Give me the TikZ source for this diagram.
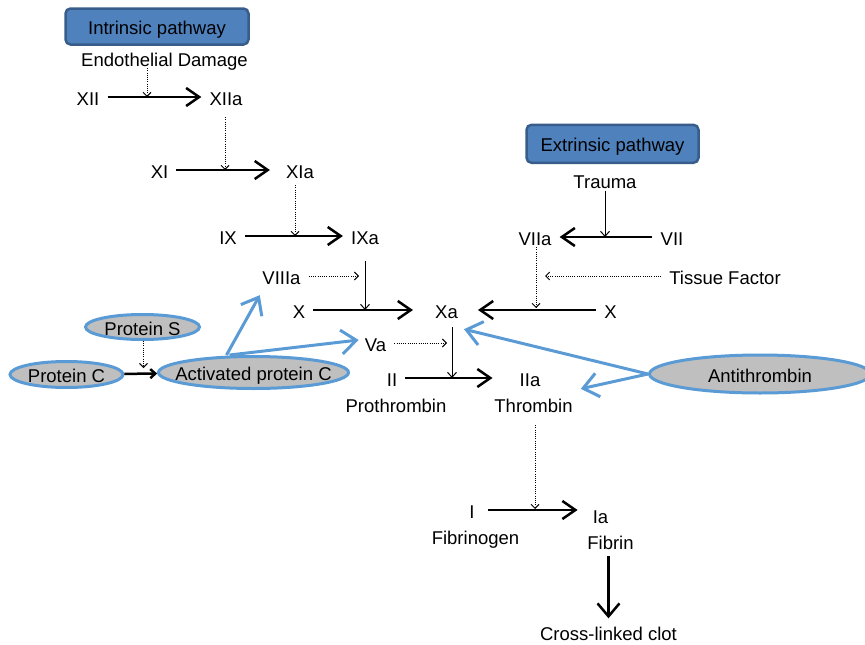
\documentclass[tikz,border=0pt]{standalone}
\usepackage{fontspec}
\setmainfont{Liberation Sans}
\usetikzlibrary{arrows.meta,shapes.geometric}
\definecolor{pathfill}{RGB}{79,129,189}
\definecolor{pathedge}{RGB}{56,93,138}
\definecolor{inhibblue}{RGB}{91,155,213}
\definecolor{inhibgray}{RGB}{191,191,191}
\newcommand{\convwidth}{2.5pt}
\newcommand{\inhibwidth}{3pt}
\newcommand{\inh}[1]{\makebox[0pt]{#1}}
\tikzset{
  factor/.style={inner xsep=8pt, inner ysep=2pt, text height=16pt, text depth=0pt},
  pathway/.style={factor, draw=pathedge, fill=pathfill, line width=2.5pt, rounded corners=5pt},
  inhib/.style={ellipse, draw=inhibblue, fill=inhibgray, line width=\inhibwidth, inner sep=0pt, text height=16pt, text depth=0pt},
  conv/.style={line width=\convwidth, -{Straight Barb[length=13pt,width=18pt]}},
  helper/.style={line width=0.9pt, dash pattern=on 1pt off 1.2pt, -{Straight Barb[length=4pt,width=8pt]}},
  act/.style={line width=1pt, -{Straight Barb[length=5pt,width=9pt]}},
  block/.style={draw=inhibblue, line width=\inhibwidth, -{Straight Barb[length=15pt,width=24pt]}}
}

\begin{document}
\begin{tikzpicture}[x=1pt, y=-1pt, font=\fontsize{18.5}{22}\selectfont]
\useasboundingbox (0,0) rectangle (865,645);
\clip (0,0) rectangle (865,645);
%intrinsic
\node[pathway, minimum width=183pt, minimum height=36pt] (int) at (157,26.5) {Intrinsic pathway};
\node[factor] (ED) at (164.5,58) {Endothelial Damage};
\node[factor] (XII) at (88,97) {XII};
\node[factor] (XIIa) at (226,97) {XIIa};
\node[factor] (XI) at (159.5,170) {XI};
\node[factor] (XIa) at (300,170) {XIa};
\node[factor] (IX) at (228,236) {IX};
\node[factor] (IXa) at (365,236) {IXa};
\node[factor] (VIIIa) at (281.5,276) {VIIIa};
\node[factor] (X) at (299,310) {X};
\node[factor] (Xa) at (446.5,310) {Xa};
\node[factor] (Va) at (375.5,343) {Va};
\node[factor] (II) at (392,378) {II};
\node[factor] (IIa) at (530,378) {IIa};
\node[factor] (prothr) at (396,404) {Prothrombin};
\node[factor] (thromb) at (533.5,404) {Thrombin};
\node[factor] (I) at (472,510) {I};
\node[factor] (Ia) at (600.5,515.5) {Ia};
\node[factor] (fibrinogen) at (475.5,536.5) {Fibrinogen};
\node[factor] (fibrin) at (610.5,541) {Fibrin};
\node[factor] (clot) at (608.5,632.5) {Cross-linked clot};
%extrinsic
\node[pathway, minimum width=172pt, minimum height=38pt] (ext) at (612.5,143.8) {Extrinsic pathway};
\node[factor] (trauma) at (605,180.3) {Trauma};
\node[factor] (VIIa) at (535,237) {VIIa};
\node[factor] (VII) at (672,237) {VII};
\node[factor] (TF) at (725,276) {Tissue Factor};
\node[factor] (Xr) at (610.5,310) {X};
%inhibitors
\node[inhib, minimum width=114pt, minimum height=25pt] (protS) at (142.5,327) {\inh{Protein S}};
\node[inhib, minimum width=113pt, minimum height=26pt] (protC) at (66.5,374.5) {\inh{Protein C}};
\node[inhib, minimum width=190pt, minimum height=32pt] (APC) at (253.5,372.5) {\inh{Activated protein C}};
\node[inhib, minimum width=221pt, minimum height=38pt] (AT) at (760,374) {\inh{Antithrombin}};
%points on the arrows
\coordinate (c1) at (147,97);
\coordinate (c2) at (225,170);
\coordinate (c3) at (295,236);
\coordinate (c4) at (365,310);
\coordinate (c5) at (359,276);
\coordinate (c6) at (447,343);
\coordinate (c7) at (452,378);
\coordinate (c8) at (535,509);
\coordinate (c9) at (605,237);
\coordinate (c10) at (536,308);
\coordinate (c11) at (545,276);
\coordinate (c12) at (143.5,368);
%conversions
\draw[conv] (XII) -- (XIIa);
\draw[conv, shorten >=8pt] (XI) -- (XIa);
\draw[conv] (IX) -- (IXa);
\draw[conv, shorten >=14pt] (X) -- (Xa);
\draw[conv, shorten >=19pt] (II) -- (IIa);
\draw[conv, shorten <=5pt, shorten >=7pt] (I) -- (I -| Ia.west);
\draw[conv] (VII) -- (VIIa);
\draw[conv, shorten >=12pt] (Xr) -- (Xa);
\draw[conv, -{Straight Barb[length=13pt,width=22pt]}, shorten <=5pt, shorten >=4pt] (fibrin.south -| clot) -- (clot);
%dotted
\draw[helper] (ED.south -| c1) -- (c1);
\draw[helper, shorten <=10pt] (XIIa.south -| c2) -- (c2);
\draw[helper, shorten <=5pt] (XIa.south -| c3) -- (c3);
\draw[helper] (VIIIa) -- (c5);
\draw[helper] (Va) -- (c6);
\draw[helper] (VIIa.south -| c10) -- (c10);
\draw[helper] (TF) -- (c11);
\draw[helper] (protS.south -| c12) -- (c12);
\draw[helper, shorten <=11pt] (thromb.south -| c8) -- (c8);
%thin
\draw[act] (trauma) -- (c9);
\draw[act, shorten <=15pt] (IXa) -- (c4);
\draw[act, shorten <=7pt] (Xa.south -| c7) -- (c7);
%protein C
\draw[line width=\convwidth, -{Straight Barb[length=5pt,width=9pt]}] (protC) -- (APC);
\draw[block] ([xshift=-27pt]APC.north) -- ([shift={(5.5,9)}]VIIIa.south west);
\draw[block] ([xshift=-24pt]APC.north) -- ([shift={(2,-3)}]Va.west);
%antithrombin
\draw[block] (AT.west) -- ([shift={(-2,9)}]Xa.south east);
\draw[block] (AT.west) -- ([shift={(0,-5)}]thromb.north east);
\end{tikzpicture}
\end{document}
